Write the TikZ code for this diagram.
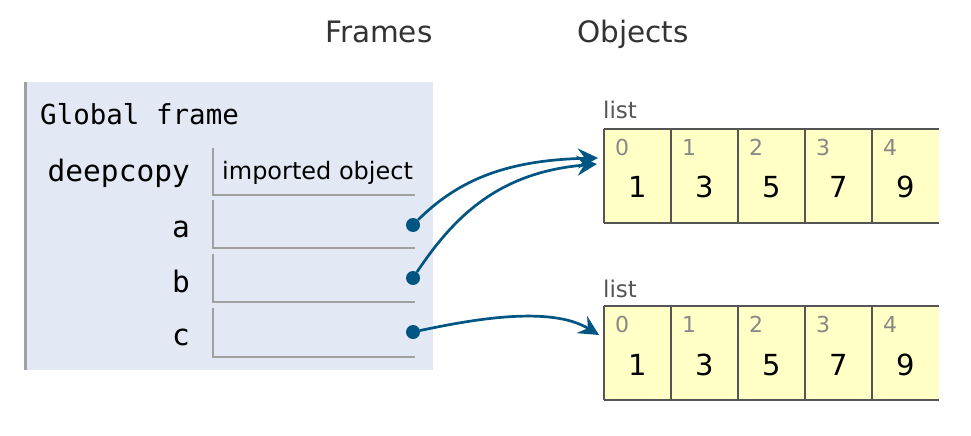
\documentclass[tikz,border=0pt]{standalone}
\usepackage{fontspec}
\setmainfont{DejaVu Sans}
\setmonofont{DejaVu Sans Mono}
\usepackage{tikz}
\usetikzlibrary{arrows.meta, positioning}
\usepackage{xcolor}
\definecolor{framebg}{HTML}{E2E9F4}
\definecolor{frameline}{HTML}{A0A0A0}
\definecolor{listbg}{HTML}{FFFFC6}
\definecolor{listline}{HTML}{555555}
\definecolor{ptrblue}{HTML}{005583}
\definecolor{headgray}{HTML}{333333}
\definecolor{idxgray}{HTML}{888888}

\begin{document}
\begin{tikzpicture}[x=1pt, y=-1pt, >={Stealth[length=20pt,width=20pt,inset=7pt]},
  head/.style={anchor=base west, inner sep=0pt, text=headgray, font=\fontsize{29.5}{34}\selectfont},
  varname/.style={anchor=base east, inner sep=0pt, font=\ttfamily\fontsize{29.5}{34}\selectfont},
  valline/.style={draw=frameline, line width=2pt},
  dot/.style={circle, fill=ptrblue, inner sep=0pt, minimum size=14pt},
  cell/.style={fill=listbg, minimum width=67pt, minimum height=94pt, inner sep=0pt},
  idx/.style={anchor=north west, inner sep=0pt, text=idxgray, font=\fontsize{22}{26}\selectfont},
  val/.style={inner sep=0pt, font=\fontsize{29}{34}\selectfont},
  tag/.style={anchor=base west, inner sep=0pt, text=listline, font=\fontsize{23}{27}\selectfont},
  border/.style={draw=listline, line width=2pt},
  ptr/.style={->, draw=ptrblue, line width=2.7pt}]

\useasboundingbox (0,0) rectangle (971,436);

% headings
\node[head] (frames) at (325,43) {Frames};
\node[head] (objects) at (577,43) {Objects};

% global frame
\fill[framebg] (24,82) rectangle (433,370);
\draw[frameline, line width=2.5pt] (25.25,82) -- (25.25,370);
\node[anchor=base west, inner sep=0pt, font=\ttfamily\fontsize{27.5}{32}\selectfont] (gf) at (40,124) {Global frame};

\foreach \nm/\ya/\yb/\bl in {deepcopy/148/195/181, a/200/248/237, b/254/302/292, c/308/357/345} {
  \node[varname] (var\nm) at (190,\bl) {\nm};
  \draw[valline] (213,\ya) -- (213,\yb) -- (415,\yb);
}
\node[anchor=base west, inner sep=0pt, font=\fontsize{24}{28}\selectfont] (imp) at (222,179) {imported object};

\node[dot] (pa) at (413,225) {};
\node[dot] (pb) at (413,278) {};
\node[dot] (pc) at (413,332) {};

% the two lists
\node[tag] (tag1) at (603,118) {list};
\node[tag] (tag2) at (603,297) {list};
\foreach \v [count=\i from 0] in {1,3,5,7,9} {
  \node[cell] (top\i) at ({604+67*\i+33.5},176) {};
  \node[idx] (topidx\i) at ([shift={(11,10)}]top\i.north west) {\i};
  \node[val] (topval\i) at ([shift={(0,11)}]top\i.center) {\v};
  \node[cell] (bot\i) at ({604+67*\i+33.5},353) {};
  \node[idx] (botidx\i) at ([shift={(11,10)}]bot\i.north west) {\i};
  \node[val] (botval\i) at ([shift={(0,12)}]bot\i.center) {\v};
}
\draw[border] (top0.north west) -- (top4.north east) (top0.south west) -- (top4.south east);
\draw[border] (bot0.north west) -- (bot4.north east) (bot0.south west) -- (bot4.south east);
\foreach \i in {0,...,4} {
  \draw[border] (top\i.north west) -- (top\i.south west);
  \draw[border] (bot\i.north west) -- (bot\i.south west);
}

% pointers
\coordinate (ta) at (598,158);
\coordinate (tb) at (597,164);
\coordinate (tc) at (599,335);
\draw[ptr] (pa) .. controls (460,178) and (510,160) .. (ta);
\draw[ptr] (pb) .. controls (455,215) and (500,172) .. (tb);
\draw[ptr] (pc) .. controls (470,320) and (550,305) .. (tc);
\end{tikzpicture}
\end{document}
